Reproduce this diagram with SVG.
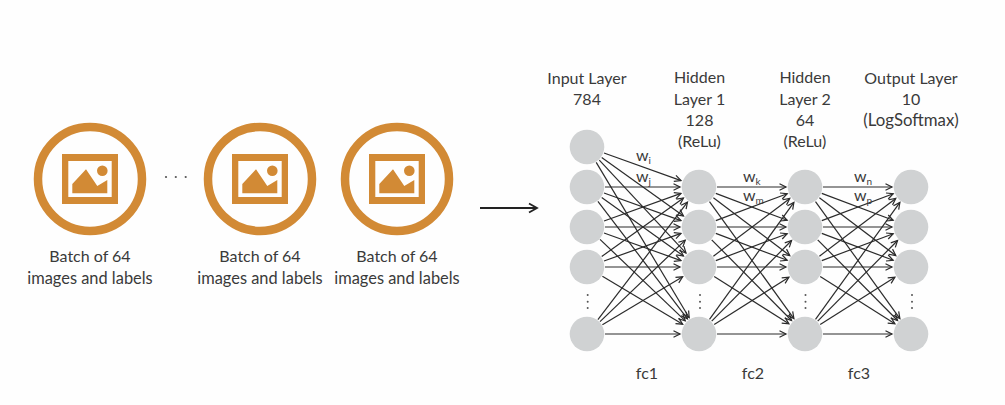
<svg xmlns="http://www.w3.org/2000/svg" width="1005" height="405" viewBox="0 0 1005 405">
<style>
text{font-family:"Lato","Open Sans",sans-serif;font-size:16px;fill:#3a3a3a;text-anchor:middle}
.w{text-anchor:start}
.s{font-size:10px}
.im{font-size:16.400px}
.lg{font-size:16.800px}
.ring{fill:none;stroke:#d28a35;stroke-width:8.5}
.o{fill:#d28a35}
.n{fill:#d0d2d3}
.d{fill:#555}
#edges line{stroke:#2b2b2b;stroke-width:1.2;marker-end:url(#a)}
</style>
<defs>
<marker id="a" markerUnits="userSpaceOnUse" markerWidth="10" markerHeight="10" refX="8" refY="4" orient="auto"><path d="M1.5 .8L8 4L1.5 7.2" fill="none" stroke="#2b2b2b" stroke-width="1.2"/></marker>
<marker id="b" markerUnits="userSpaceOnUse" markerWidth="14" markerHeight="14" refX="11" refY="6" orient="auto"><path d="M3 1.5L11 6L3 10.500" fill="none" stroke="#222" stroke-width="1.8"/></marker>
<g id="icon">
<circle class="ring" cx="0" cy="0" r="52"/>
<path class="o" fill-rule="evenodd" d="M-28-25H28V25H-28ZM-21.700-18V18H21.700V-18Z"/>
<path class="o" d="M-17.700 14.300V5L-4-9.700L7.300 7L17.300 1V14.300Z"/>
<circle class="o" cx="12.300" cy="-8.300" r="5.300"/>
</g>
</defs>
<rect width="1005" height="405" fill="#fefefe"/>
<g id="batch1"><use href="#icon" x="90" y="179"/><text x="90" y="262">Batch of 64</text><text class="im" x="90" y="284">images and labels</text></g>
<g id="ellipsis"><circle class="d" cx="166" cy="177" r="1.100"/><circle class="d" cx="175.800" cy="177" r="1.100"/><circle class="d" cx="185.700" cy="177" r="1.100"/></g>
<g id="batch2"><use href="#icon" x="260" y="179"/><text x="260" y="262">Batch of 64</text><text class="im" x="260" y="284">images and labels</text></g>
<g id="batch3"><use href="#icon" x="397" y="179"/><text x="397" y="262">Batch of 64</text><text class="im" x="397" y="284">images and labels</text></g>
<g id="bigarrow"><line x1="480" y1="208" x2="537" y2="208" stroke="#222" stroke-width="1.800" marker-end="url(#b)"/></g>
<g id="edges">
<line x1="604" y1="153" x2="681" y2="180.600"/><line x1="601.700" y1="157.500" x2="683.500" y2="216"/><line x1="599.300" y1="160.200" x2="686" y2="253.100"/><line x1="596.200" y1="162.400" x2="689.200" y2="317.700"/>
<line x1="605" y1="187" x2="680" y2="187"/><line x1="604" y1="193" x2="681" y2="220.600"/><line x1="601.700" y1="197.500" x2="683.500" y2="256"/><line x1="597.900" y1="201.300" x2="687.500" y2="318.900"/>
<line x1="604" y1="221" x2="681" y2="193.400"/><line x1="605" y1="227" x2="680" y2="227"/><line x1="604" y1="233" x2="681" y2="260.600"/><line x1="600" y1="239.400" x2="685.300" y2="320.900"/>
<line x1="601.700" y1="256.500" x2="683.500" y2="198"/><line x1="604" y1="261" x2="681" y2="233.400"/><line x1="605" y1="267" x2="680" y2="267"/><line x1="602.400" y1="276.200" x2="682.700" y2="324.200"/>
<line x1="597.900" y1="319.700" x2="687.500" y2="202.100"/><line x1="600" y1="321.600" x2="685.300" y2="240.100"/><line x1="602.400" y1="324.800" x2="682.700" y2="276.800"/><line x1="605" y1="334" x2="680" y2="334"/>
<line x1="717" y1="187" x2="786" y2="187"/><line x1="715.800" y1="193.400" x2="787.200" y2="220.300"/><line x1="713.400" y1="197.800" x2="789.800" y2="255.600"/><line x1="709.500" y1="201.600" x2="793.900" y2="318.600"/>
<line x1="715.800" y1="220.600" x2="787.200" y2="193.700"/><line x1="717" y1="227" x2="786" y2="227"/><line x1="715.800" y1="233.400" x2="787.200" y2="260.300"/><line x1="711.700" y1="239.800" x2="791.600" y2="320.500"/>
<line x1="713.400" y1="256.200" x2="789.800" y2="198.400"/><line x1="715.800" y1="260.600" x2="787.200" y2="233.700"/><line x1="717" y1="267" x2="786" y2="267"/><line x1="714.200" y1="276.600" x2="788.900" y2="323.800"/>
<line x1="709.500" y1="319.400" x2="793.900" y2="202.400"/><line x1="711.700" y1="321.200" x2="791.600" y2="240.500"/><line x1="714.200" y1="324.400" x2="788.900" y2="277.200"/><line x1="717" y1="334" x2="786" y2="334"/>
<line x1="823" y1="187" x2="892" y2="187"/><line x1="821.800" y1="193.400" x2="893.200" y2="220.300"/><line x1="819.400" y1="197.800" x2="895.800" y2="255.600"/><line x1="815.500" y1="201.600" x2="899.900" y2="318.600"/>
<line x1="821.800" y1="220.600" x2="893.200" y2="193.700"/><line x1="823" y1="227" x2="892" y2="227"/><line x1="821.800" y1="233.400" x2="893.200" y2="260.300"/><line x1="817.700" y1="239.800" x2="897.600" y2="320.500"/>
<line x1="819.400" y1="256.200" x2="895.800" y2="198.400"/><line x1="821.800" y1="260.600" x2="893.200" y2="233.700"/><line x1="823" y1="267" x2="892" y2="267"/><line x1="820.200" y1="276.600" x2="894.900" y2="323.800"/>
<line x1="815.500" y1="319.400" x2="899.900" y2="202.400"/><line x1="817.700" y1="321.200" x2="897.600" y2="240.500"/><line x1="820.200" y1="324.400" x2="894.900" y2="277.200"/><line x1="823" y1="334" x2="892" y2="334"/>
</g>
<g id="input-layer">
<circle class="n" cx="587" cy="147" r="17.300"/><circle class="n" cx="587" cy="187" r="17.300"/><circle class="n" cx="587" cy="227" r="17.300"/><circle class="n" cx="587" cy="267" r="17.300"/><circle class="n" cx="587" cy="334" r="17.300"/>
<circle class="d" cx="587.700" cy="295" r="1"/><circle class="d" cx="587.700" cy="301.700" r="1"/><circle class="d" cx="587.700" cy="308" r="1"/>
<text x="587" y="84">Input Layer</text><text x="587" y="105">784</text></g>
<g id="hidden-layer-1">
<circle class="n" cx="699" cy="187" r="17.300"/><circle class="n" cx="699" cy="227" r="17.300"/><circle class="n" cx="699" cy="267" r="17.300"/><circle class="n" cx="699" cy="334" r="17.300"/>
<circle class="d" cx="700" cy="295" r="1"/><circle class="d" cx="700" cy="301.700" r="1"/><circle class="d" cx="700" cy="308" r="1"/>
<text x="699.500" y="83">Hidden</text><text x="699.500" y="104.500">Layer 1</text><text x="699.500" y="125.500">128</text><text x="699.500" y="146.500">(ReLu)</text></g>
<g id="hidden-layer-2">
<circle class="n" cx="805" cy="187" r="17.300"/><circle class="n" cx="805" cy="227" r="17.300"/><circle class="n" cx="805" cy="267" r="17.300"/><circle class="n" cx="805" cy="334" r="17.300"/>
<circle class="d" cx="805.500" cy="295" r="1"/><circle class="d" cx="805.500" cy="301.700" r="1"/><circle class="d" cx="805.500" cy="308" r="1"/>
<text x="805" y="83">Hidden</text><text x="805" y="104.500">Layer 2</text><text x="805" y="125.500">64</text><text x="805" y="146.500">(ReLu)</text></g>
<g id="output-layer">
<circle class="n" cx="911" cy="187" r="17.300"/><circle class="n" cx="911" cy="227" r="17.300"/><circle class="n" cx="911" cy="267" r="17.300"/><circle class="n" cx="911" cy="334" r="17.300"/>
<circle class="d" cx="912" cy="295" r="1"/><circle class="d" cx="912" cy="301.700" r="1"/><circle class="d" cx="912" cy="308" r="1"/>
<text x="911" y="84">Output Layer</text><text x="911" y="105">10</text><text class="lg" x="911" y="126">(LogSoftmax)</text></g>
<g id="labels">
<text class="w" x="636" y="161">w<tspan class="s" dy="3">i</tspan></text>
<text class="w" x="636" y="182">w<tspan class="s" dy="3">j</tspan></text>
<text class="w" x="743" y="182">w<tspan class="s" dy="3">k</tspan></text>
<text class="w" x="743" y="200.500">w<tspan class="s" dy="3">m</tspan></text>
<text class="w" x="854" y="182">w<tspan class="s" dy="3">n</tspan></text>
<text class="w" x="854" y="200.500">w<tspan class="s" dy="3">p</tspan></text>
<text x="647" y="379">fc1</text><text x="753" y="379">fc2</text><text x="859" y="379">fc3</text>
</g>
</svg>
